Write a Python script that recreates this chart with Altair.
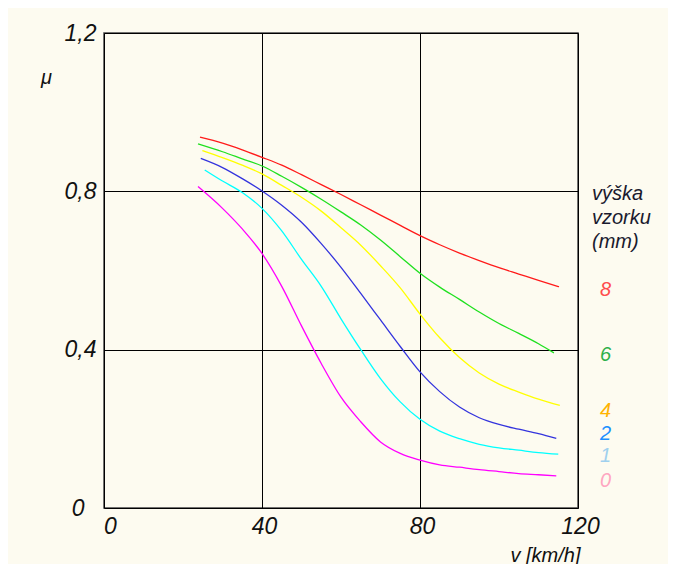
import altair as alt
import pandas as pd

# Series: sample height (mm) -> friction coefficient mu vs speed v [km/h]
heights = ["8", "6", "4", "2", "1", "0"]

v_8 = [24.3, 30, 35, 40, 45, 50, 55, 60, 65, 70, 75, 80, 85, 90, 95, 100, 105, 110, 115.2]
mu_8 = [0.937, 0.922, 0.905, 0.886, 0.866, 0.842, 0.817, 0.792, 0.766, 0.740, 0.714, 0.688, 0.665, 0.644, 0.625, 0.607, 0.591, 0.575, 0.559]

v_6 = [23.8, 30, 35, 40, 45, 50, 55, 60, 65, 70, 75, 80, 85, 90, 95, 100, 105, 110, 113.9]
mu_6 = [0.920, 0.900, 0.882, 0.864, 0.838, 0.810, 0.780, 0.748, 0.715, 0.677, 0.635, 0.593, 0.558, 0.527, 0.495, 0.466, 0.441, 0.415, 0.392]

v_4 = [24.9, 30, 35, 40, 45, 50, 55, 60, 65, 70, 75, 80, 85, 90, 95, 100, 105, 110, 115.4]
mu_4 = [0.903, 0.885, 0.866, 0.844, 0.815, 0.785, 0.750, 0.708, 0.664, 0.612, 0.556, 0.490, 0.430, 0.380, 0.341, 0.313, 0.293, 0.275, 0.259]

v_2 = [24.5, 30, 35, 40, 45, 50, 55, 60, 65, 70, 75, 80, 85, 90, 95, 100, 105, 110, 114.5]
mu_2 = [0.883, 0.860, 0.832, 0.801, 0.765, 0.722, 0.668, 0.608, 0.542, 0.475, 0.408, 0.344, 0.294, 0.255, 0.228, 0.211, 0.199, 0.188, 0.176]

v_1 = [25.5, 30, 35, 40, 45, 50, 55, 60, 65, 70, 75, 80, 85, 90, 95, 100, 105, 110, 115]
mu_1 = [0.854, 0.826, 0.797, 0.757, 0.700, 0.628, 0.560, 0.478, 0.400, 0.327, 0.268, 0.224, 0.194, 0.175, 0.161, 0.152, 0.146, 0.140, 0.136]

v_0 = [23.8, 30, 35, 40, 45, 50, 55, 60, 65, 70, 75, 80, 85, 90, 95, 100, 105, 110, 114.5]
mu_0 = [0.812, 0.757, 0.705, 0.643, 0.560, 0.460, 0.365, 0.280, 0.218, 0.167, 0.138, 0.121, 0.109, 0.103, 0.097, 0.092, 0.087, 0.084, 0.081]

line_colors = ["#ff1a1a", "#1fe01f", "#ffff00", "#3333dd", "#00ffff", "#ff00ff"]
label_colors = ["#ff4d4d", "#2db04a", "#ffb300", "#1e90ff", "#9fd0ee", "#ffa6c0"]
# where the legend numbers sit on the mu axis
label_mu = [0.550, 0.386, 0.245, 0.187, 0.131, 0.068]

x_ticks = [0, 40, 80, 120]
y_ticks = [0, 0.4, 0.8, 1.2]
legend_title = "výška\nvzorku\n(mm)"

series_v = [v_8, v_6, v_4, v_2, v_1, v_0]
series_mu = [mu_8, mu_6, mu_4, mu_2, mu_1, mu_0]

rows = []
for h, vs, ms in zip(heights, series_v, series_mu):
    for i, (v, m) in enumerate(zip(vs, ms)):
        rows.append({"h": h, "v": v, "mu": m, "order": i})
df = pd.DataFrame(rows)

ends = pd.DataFrame({"h": heights, "mu": label_mu, "c": label_colors})

FONT = "Liberation Sans"
BG = "#fdfbf0"

x_scale = alt.Scale(domain=[0, 120], nice=False, zero=False)
y_scale = alt.Scale(domain=[0, 1.2], nice=False)

x_axis = alt.Axis(
    values=x_ticks, grid=True, gridColor="#000000", gridWidth=1,
    domain=False, ticks=False,
    labelFont=FONT, labelFontSize=23, labelFontStyle="italic", labelColor="#111111",
    labelPadding=7, labelFlush=False,
    labelOffset={"condition": {"test": "datum.value == 0", "value": 6}, "value": 2},
    title="v [km/h]", titleFont=FONT, titleFontSize=20, titleFontStyle="italic",
    titleFontWeight="normal", titleColor="#111111",
    titleX=476, titleAlign="right", titleY=53, titleBaseline="alphabetic",
)
y_axis = alt.Axis(
    values=y_ticks, grid=True, gridColor="#000000", gridWidth=1,
    domain=False, ticks=False,
    labelFont=FONT, labelFontSize=23, labelFontStyle="italic", labelColor="#111111",
    labelPadding={"condition": {"test": "datum.value == 0", "value": 20}, "value": 8},
    labelFlush=False,
    labelExpr="datum.value == 0 ? '0' : replace(format(datum.value, '.1f'), '.', ',')",
    title="μ", titleFont=FONT, titleFontSize=20, titleFontStyle="italic",
    titleFontWeight="normal", titleColor="#111111",
    titleAngle=0, titleX=-58, titleY=44, titleAlign="center", titleBaseline="middle",
)

lines = alt.Chart(df).mark_line(strokeWidth=1.3, interpolate="monotone").encode(
    x=alt.X("v:Q", scale=x_scale, axis=x_axis),
    y=alt.Y("mu:Q", scale=y_scale, axis=y_axis),
    color=alt.Color("h:N", scale=alt.Scale(domain=heights, range=line_colors), legend=None),
    order="order:Q",
)

labels = alt.Chart(ends).mark_text(
    align="left", baseline="middle", dx=22, font=FONT, fontSize=20, fontStyle="italic"
).encode(
    x=alt.datum(120),
    y=alt.Y("mu:Q"),
    text="h:N",
    color=alt.Color("c:N", scale=None),
)

title_text = alt.Chart(pd.DataFrame({"t": [legend_title]})).mark_text(
    align="left", baseline="top", lineBreak="\n", lineHeight=24,
    font=FONT, fontSize=20, fontStyle="italic", color="#1a1a2e",
).encode(
    x=alt.value(488),
    y=alt.value(151),
    text="t:N",
)

chart = alt.layer(lines, labels, title_text).properties(
    width=474, height=475,
    autosize=alt.AutoSizeParams(type="none"),
    padding={"left": 96, "top": 25, "right": 90, "bottom": 56},
    background=BG,
).configure_view(
    fill=BG, stroke="#444444", strokeWidth=1.5,
)

chart.save("out.html", embed_options={"renderer": "svg", "actions": False})
